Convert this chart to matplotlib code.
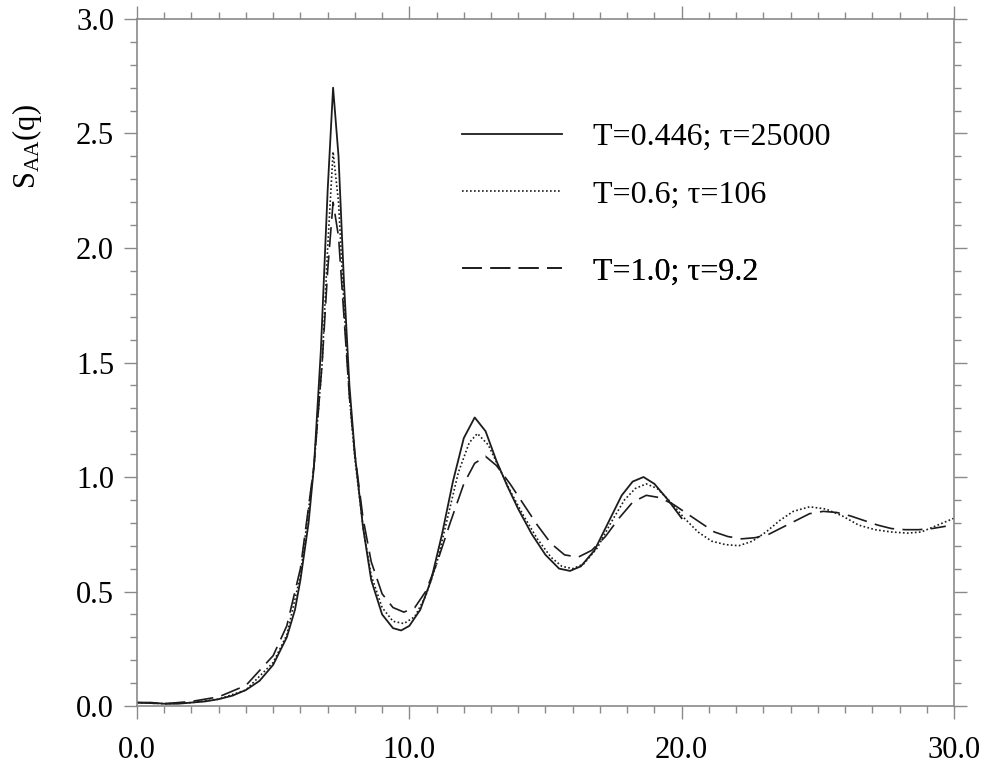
import matplotlib
matplotlib.use("Agg")
import matplotlib.pyplot as plt
from matplotlib.ticker import MultipleLocator, FormatStrFormatter

plt.rcParams['font.family'] = ['Liberation Serif', 'DejaVu Serif']
plt.rcParams['mathtext.fontset'] = 'custom'
plt.rcParams['mathtext.rm'] = 'Liberation Serif'
plt.rcParams['mathtext.it'] = 'Liberation Serif:italic'

# T=0.446; tau=25000
q1 = [0.0, 0.5, 1.0, 1.5, 2.0, 2.5, 3.0, 3.5, 4.0, 4.5, 5.0, 5.5, 5.8, 6.0, 6.3, 6.5,
      6.75, 7.0, 7.2, 7.4, 7.6, 7.8, 8.0, 8.3, 8.6, 9.0, 9.4, 9.7, 10.0, 10.4, 10.8,
      11.2, 11.6, 12.0, 12.4, 12.8, 13.2, 13.6, 14.0, 14.5, 15.0, 15.5, 15.9, 16.3,
      16.8, 17.3, 17.8, 18.2, 18.6, 19.0, 19.5, 20.0]
s1 = [0.015, 0.015, 0.01, 0.01, 0.015, 0.02, 0.03, 0.045, 0.07, 0.11, 0.18, 0.30, 0.42,
      0.55, 0.80, 1.05, 1.55, 2.25, 2.70, 2.40, 1.85, 1.40, 1.10, 0.78, 0.55, 0.40, 0.34,
      0.33, 0.35, 0.42, 0.55, 0.75, 0.98, 1.17, 1.26, 1.20, 1.07, 0.96, 0.86, 0.75, 0.66,
      0.60, 0.59, 0.61, 0.68, 0.80, 0.92, 0.98, 1.00, 0.97, 0.90, 0.82]

# T=0.6; tau=106
q2 = [0.0, 1.0, 2.0, 3.0, 4.0, 5.0, 5.5, 6.0, 6.5, 6.8, 7.0, 7.2, 7.4, 7.6, 7.8, 8.0,
      8.3, 8.6, 9.0, 9.4, 9.8, 10.2, 10.6, 11.0, 11.4, 11.8, 12.2, 12.5, 12.9, 13.3,
      13.7, 14.2, 14.7, 15.2, 15.6, 16.0, 16.4, 16.9, 17.4, 17.9, 18.3, 18.7, 19.1,
      19.6, 20.1, 20.6, 21.1, 21.6, 22.1, 22.6, 23.1, 23.6, 24.1, 24.7, 25.3, 25.9,
      26.5, 27.1, 27.7, 28.3, 28.8, 29.4, 30.0]
s2 = [0.015, 0.01, 0.015, 0.03, 0.07, 0.19, 0.31, 0.57, 1.05, 1.50, 2.00, 2.42, 2.20,
      1.75, 1.35, 1.08, 0.78, 0.57, 0.43, 0.37, 0.36, 0.39, 0.48, 0.62, 0.82, 1.02, 1.15,
      1.19, 1.14, 1.04, 0.94, 0.83, 0.73, 0.65, 0.61, 0.60, 0.62, 0.69, 0.80, 0.90, 0.95,
      0.97, 0.95, 0.89, 0.82, 0.76, 0.72, 0.705, 0.70, 0.72, 0.76, 0.81, 0.85, 0.87, 0.86,
      0.83, 0.79, 0.77, 0.76, 0.755, 0.76, 0.79, 0.82]

# T=1.0; tau=9.2
q3 = [0.0, 1.0, 2.0, 3.0, 4.0, 5.0, 5.5, 6.0, 6.5, 6.8, 7.0, 7.2, 7.4, 7.6, 7.8, 8.0,
      8.3, 8.6, 9.0, 9.4, 9.8, 10.2, 10.6, 11.0, 11.5, 12.0, 12.4, 12.8, 13.2, 13.7,
      14.2, 14.7, 15.2, 15.7, 16.2, 16.7, 17.2, 17.7, 18.2, 18.7, 19.2, 19.7, 20.2,
      20.7, 21.2, 21.7, 22.2, 22.7, 23.2, 23.7, 24.2, 24.7, 25.2, 25.7, 26.2, 26.7,
      27.2, 27.7, 28.2, 28.7, 29.2, 29.7]
s3 = [0.015, 0.01, 0.02, 0.04, 0.09, 0.22, 0.35, 0.60, 1.05, 1.50, 1.90, 2.20, 2.05,
      1.70, 1.35, 1.10, 0.82, 0.63, 0.49, 0.43, 0.41, 0.43, 0.50, 0.62, 0.80, 0.97, 1.06,
      1.09, 1.05, 0.97, 0.88, 0.79, 0.71, 0.66, 0.65, 0.68, 0.74, 0.82, 0.89, 0.92, 0.91,
      0.88, 0.84, 0.80, 0.76, 0.74, 0.73, 0.735, 0.75, 0.78, 0.81, 0.84, 0.85, 0.845,
      0.83, 0.81, 0.79, 0.775, 0.77, 0.77, 0.775, 0.785]

labels = ['T=0.446; τ=25000', 'T=0.6; τ=106', 'T=1.0; τ=9.2']
xticks_major = [0.0, 10.0, 20.0, 30.0]
yticks_major = [0.0, 0.5, 1.0, 1.5, 2.0, 2.5, 3.0]

fig = plt.figure(figsize=(9.9, 7.69), dpi=100)
ax = fig.add_axes([0.1384, 0.0819, 0.8252, 0.8934])

lc = '#1c1c1c'
l1, = ax.plot(q1, s1, color=lc, lw=1.3, linestyle='-')
l2, = ax.plot(q2, s2, color=lc, lw=1.2, linestyle=(0, (1, 1.4)))
l3, = ax.plot(q3, s3, color=lc, lw=1.2, linestyle=(0, (12, 5)))

ax.set_xlim(0, 30)
ax.set_ylim(0, 3)
ax.set_xticks(xticks_major)
ax.set_yticks(yticks_major)
ax.xaxis.set_minor_locator(MultipleLocator(1.0))
ax.yaxis.set_minor_locator(MultipleLocator(0.1))
ax.xaxis.set_major_formatter(FormatStrFormatter('%.1f'))
ax.yaxis.set_major_formatter(FormatStrFormatter('%.1f'))

gc = '#8a8a8a'
for sp in ax.spines.values():
    sp.set_color(gc)
    sp.set_linewidth(1.2)
ax.tick_params(which='both', direction='out', color=gc, width=1.0,
               top=True, right=True, labeltop=False, labelright=False)
ax.tick_params(which='major', length=9.5, labelsize=22)
ax.tick_params(which='minor', length=5)
ax.tick_params(axis='x', which='major', pad=12)
ax.tick_params(axis='y', which='major', pad=7)

ax.set_ylabel(r'$\mathrm{S_{AA}(q)}$', fontsize=22)
ax.yaxis.set_label_coords(-0.114, 0.815)

# legend rows placed individually (uneven spacing as in the reference)
rows_y = [0.828, 0.744, 0.632]
for h, lab, yy in zip([l1, l2, l3], labels, rows_y):
    lg = ax.legend([h], [lab], loc='center left', bbox_to_anchor=(0.398, yy),
                   frameon=False, fontsize=23, handlelength=3.13, handletextpad=0.97,
                   borderpad=0, borderaxespad=0)
    ax.add_artist(lg)

fig.savefig('out.png', dpi=100)
